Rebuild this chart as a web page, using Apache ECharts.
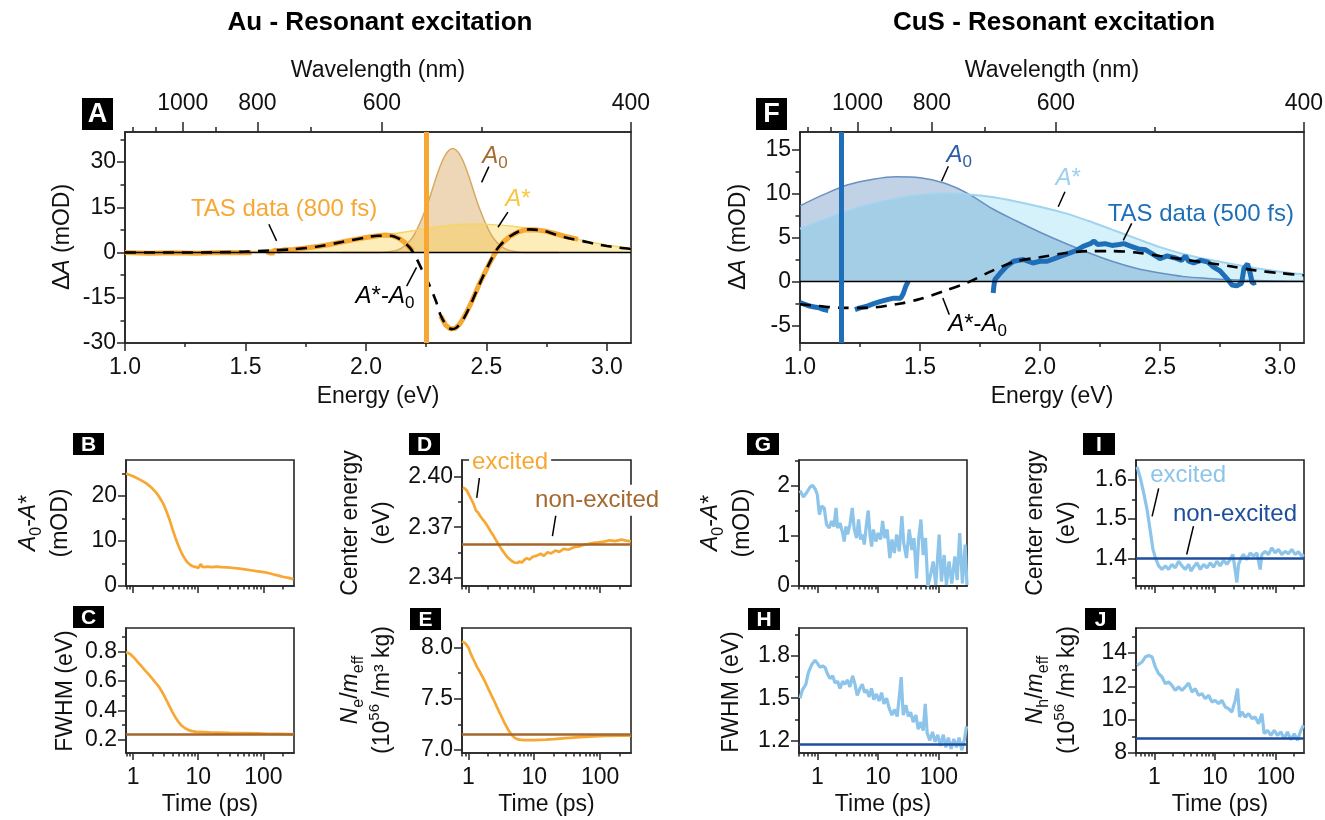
<!DOCTYPE html>
<html>
<head>
<meta charset="utf-8">
<title>Au / CuS resonant excitation</title>
<script src="https://cdn.jsdelivr.net/npm/echarts@6.0.0/dist/echarts.min.js"></script>
<style>
html,body{margin:0;padding:0;background:#fff;}
#chart{width:1325px;height:820px;}
</style>
</head>
<body>
<div id="chart"></div>
<script>
const FONT = '"Liberation Sans", Arial, Helvetica, sans-serif';
const HC = 1239.84; // eV*nm, energy <-> wavelength for the top axis

// ---------------- tick values / labels ----------------
const wavelengthLabels = [1000, 800, 600, 400];
const wavelengthMinor = [1200, 1100, 900, 700, 500];
const energyMajor = [1.0, 1.5, 2.0, 2.5, 3.0];
const energyMinor = [1.25, 1.75, 2.25, 2.75];
const timeMajor = [1, 10, 100];
const timeMinorAu = [0.8, 0.9, 2, 3, 4, 5, 6, 7, 8, 9, 20, 30, 40, 50, 60, 70, 80, 90, 200];
const timeMinorCu = [0.5, 0.6, 0.7, 0.8, 0.9, 2, 3, 4, 5, 6, 7, 8, 9, 20, 30, 40, 50, 60, 70, 80, 90, 200];
const yMajorA = [-30, -15, 0, 15, 30], yMinorA = [-22.5, -7.5, 7.5, 22.5, 37.5];
const yMajorF = [-5, 0, 5, 10, 15], yMinorF = [-2.5, 2.5, 7.5, 12.5];
const yMajorB = [0, 10, 20], yMinorB = [5, 15, 25];
const yMajorC = [0.2, 0.4, 0.6, 0.8], yMinorC = [0.3, 0.5, 0.7, 0.9];
const yMajorD = [2.34, 2.37, 2.40], yMinorD = [2.355, 2.385];
const yMajorE = [7.0, 7.5, 8.0], yMinorE = [7.25, 7.75];
const yMajorG = [0, 1, 2], yMinorG = [0.5, 1.5, 2.5];
const yMajorH = [1.2, 1.5, 1.8], yMinorH = [1.35, 1.65, 1.95];
const yMajorI = [1.4, 1.5, 1.6], yMinorI = [1.35, 1.45, 1.55];
const yMajorJ = [8, 10, 12, 14], yMinorJ = [9, 11, 13, 15];

// ---------------- Panel A : Au spectra (energy eV, dA mOD) ----------------
const auPump = 2.25;
const auTAS = [[1.0,0.0],[1.1,-0.2],[1.2,-0.1],[1.3,-0.2],[1.4,0.0],[1.525,-0.1],[1.56,null],
 [1.595,-0.8],[1.6,0.6],[1.61,-0.5],[1.62,0.8],[1.64,0.5],[1.66,0.9],[1.7,1.0],[1.75,1.5],[1.8,2.0],[1.85,2.7],[1.9,3.5],[1.95,4.3],[2.0,5.0],[2.05,5.6],[2.08,5.8],[2.11,5.6],[2.14,4.6],[2.16,3.4],[2.18,1.8],[2.195,0.6],[2.25,null],
 [2.31,-21.0],[2.33,-24.0],[2.35,-25.3],[2.37,-25.2],[2.39,-23.6],[2.41,-21.0],[2.43,-17.8],[2.45,-14.2],[2.47,-10.5],[2.49,-7.2],[2.51,-4.0],[2.53,-1.0],[2.55,1.5],[2.57,3.5],[2.6,5.5],[2.63,6.8],[2.66,7.5],[2.7,7.6],[2.74,7.2],[2.78,6.4],[2.82,5.5],[2.86,4.8],[2.88,4.4]];
const auFit = [[1.0,0],[1.2,0],[1.4,0.1],[1.5,0.3],[1.6,0.7],[1.7,1.1],[1.8,2.0],[1.9,3.5],[2.0,5.0],[2.05,5.6],[2.1,5.6],[2.14,4.5],[2.17,2.6],[2.19,0.8],[2.21,-2.0],[2.23,-5.3],[2.26,-10.2],[2.29,-16.0],[2.31,-20.8],[2.335,-24.3],[2.356,-25.4],[2.376,-24.9],[2.404,-22.1],[2.432,-17.7],[2.459,-12.7],[2.487,-7.7],[2.515,-3.1],[2.542,0.9],[2.57,3.5],[2.6,5.5],[2.64,7.2],[2.68,7.7],[2.74,7.2],[2.79,5.9],[2.85,4.6],[2.9,3.8],[2.95,2.9],[3.0,2.2],[3.05,1.6],[3.1,1.2]];
const auA0 = [[1.9,0],[2.05,0.05],[2.1,0.3],[2.15,1.6],[2.2,5.9],[2.25,14.9],[2.3,26.9],[2.33,32.4],[2.36,34.5],[2.39,32.4],[2.42,26.9],[2.47,14.9],[2.52,5.9],[2.57,1.6],[2.62,0.3],[2.67,0.05],[2.8,0]];
const auAstar = [[1.0,0],[1.3,0.05],[1.5,0.3],[1.6,0.7],[1.7,1.1],[1.8,2.0],[1.9,3.5],[2.0,5.0],[2.1,6.1],[2.2,7.3],[2.3,8.6],[2.4,9.4],[2.45,9.5],[2.5,9.4],[2.6,8.8],[2.7,7.6],[2.8,5.9],[2.9,4.0],[3.0,2.5],[3.1,1.4]];

// ---------------- Panel F : CuS spectra ----------------
const cuPump = 1.17;
const cuTAS = [[1.0,-2.4],[1.02,-2.6],[1.04,-2.8],[1.06,-2.9],[1.08,-3.0],[1.1,-3.2],[1.118,-3.3],[1.17,null],
 [1.229,-3.2],[1.25,-3.0],[1.28,-2.8],[1.31,-2.5],[1.333,-2.3],[1.36,-2.1],[1.39,-1.9],[1.42,-1.9],[1.43,-1.4],[1.44,-0.6],[1.451,0.0],[1.6,null],
 [1.805,-1.3],[1.808,-0.5],[1.812,0.2],[1.833,0.9],[1.86,1.7],[1.89,2.3],[1.93,2.5],[1.97,2.1],[2.0,2.3],[2.03,2.3],[2.06,2.6],[2.09,2.9],[2.12,3.2],[2.15,3.5],[2.18,4.0],[2.21,4.3],[2.225,4.6],[2.24,4.2],[2.27,4.3],[2.3,4.1],[2.33,4.2],[2.35,4.3],[2.38,4.0],[2.41,3.7],[2.44,3.6],[2.47,3.1],[2.5,2.6],[2.53,2.9],[2.56,2.7],[2.59,2.4],[2.605,2.9],[2.62,2.3],[2.64,2.1],[2.67,2.4],[2.7,2.2],[2.72,1.7],[2.75,1.2],[2.78,0.3],[2.8,-0.4],[2.82,-0.5],[2.84,-0.2],[2.85,1.5],[2.865,2.0],[2.875,1.0],[2.885,-0.2],[2.9,-0.1]];
const cuFit = [[1.0,-2.6],[1.08,-2.8],[1.17,-3.0],[1.28,-3.0],[1.42,-2.5],[1.5,-2.0],[1.6,-1.1],[1.7,-0.1],[1.8,1.2],[1.9,2.3],[2.0,2.75],[2.1,3.2],[2.2,3.45],[2.3,3.45],[2.4,3.3],[2.5,2.9],[2.6,2.5],[2.7,2.1],[2.8,1.7],[2.9,1.25],[3.0,0.95],[3.1,0.7]];
const cuA0 = [[1.0,8.6],[1.1,9.9],[1.2,11.0],[1.3,11.6],[1.4,11.9],[1.5,11.8],[1.6,11.2],[1.7,10.0],[1.8,8.3],[1.9,6.9],[2.0,5.6],[2.1,4.4],[2.2,3.3],[2.3,2.3],[2.4,1.5],[2.5,0.95],[2.6,0.55],[2.7,0.35],[2.8,0.2],[2.9,0.1],[3.0,0.05],[3.1,0.02]];
const cuAstar = [[1.0,6.0],[1.1,7.0],[1.2,8.0],[1.3,8.8],[1.4,9.4],[1.5,9.8],[1.6,10.0],[1.7,9.9],[1.8,9.6],[1.9,9.1],[2.0,8.5],[2.1,7.8],[2.2,6.9],[2.3,5.9],[2.4,4.9],[2.5,3.9],[2.6,3.1],[2.7,2.5],[2.8,2.0],[2.9,1.5],[3.0,1.1],[3.1,0.8]];

// ---------------- Au kinetics (time ps) ----------------
const auAmp = [[0.78,25.0],[0.85,24.8],[0.92,24.6],[1.0,24.4],[1.1,24.1],[1.25,23.7],[1.4,23.3],[1.6,22.8],[1.8,22.2],[2.0,21.6],[2.25,20.8],[2.5,19.9],[2.75,18.9],[3.0,17.9],[3.3,16.4],[3.6,14.9],[4.0,12.8],[4.4,11.0],[4.8,9.5],[5.3,8.0],[5.8,6.8],[6.4,5.8],[7.0,5.1],[7.7,4.6],[8.5,4.3],[9.3,4.2],[10.0,4.0],[10.6,4.3],[11.0,4.9],[11.5,4.3],[12.5,4.2],[14,4.3],[16,4.2],[19,4.3],[23,4.2],[28,4.15],[35,4.0],[43,3.85],[52,3.7],[64,3.5],[78,3.3],[95,3.15],[115,2.95],[140,2.6],[170,2.3],[205,2.0],[245,1.8],[290,1.5]];
const auFwhm = [[0.78,0.795],[0.85,0.79],[0.92,0.78],[1.0,0.765],[1.1,0.745],[1.2,0.725],[1.35,0.70],[1.5,0.675],[1.7,0.65],[1.9,0.625],[2.1,0.60],[2.3,0.58],[2.5,0.56],[2.75,0.53],[3.0,0.50],[3.3,0.465],[3.6,0.43],[4.0,0.39],[4.5,0.35],[5.0,0.32],[5.6,0.295],[6.3,0.278],[7.0,0.267],[8.0,0.259],[9.0,0.255],[10,0.253],[12,0.252],[15,0.25],[20,0.249],[30,0.247],[50,0.245],[80,0.243],[120,0.241],[180,0.24],[250,0.239],[295,0.238]];
const auFwhmNonExc = 0.236;
const auCenter = [[0.82,2.3935],[0.88,2.3930],[0.95,2.3918],[1.02,2.3892],[1.1,2.3868],[1.2,2.3838],[1.3,2.3800],[1.4,2.3788],[1.5,2.3768],[1.65,2.3747],[1.8,2.3728],[2.0,2.3700],[2.2,2.3672],[2.4,2.3650],[2.6,2.3626],[2.9,2.3594],[3.2,2.3568],[3.6,2.3540],[4.0,2.3518],[4.5,2.3500],[5.0,2.3490],[5.5,2.3487],[6.0,2.3496],[6.5,2.3489],[7.0,2.3504],[7.7,2.3516],[8.5,2.3508],[9.5,2.3524],[11,2.3531],[12.5,2.3542],[14,2.3530],[16,2.3551],[18,2.3544],[21,2.3561],[24,2.3553],[28,2.3571],[33,2.3566],[40,2.3581],[48,2.3586],[57,2.3596],[68,2.3601],[80,2.3607],[95,2.3610],[115,2.3614],[140,2.3622],[170,2.3617],[210,2.3626],[250,2.3620],[293,2.3616]];
const auCenterNonExc = 2.3628;
const auDensity = [[0.8,8.06],[0.9,8.04],[1.0,8.0],[1.1,7.93],[1.2,7.88],[1.35,7.81],[1.5,7.76],[1.75,7.68],[2.0,7.60],[2.25,7.53],[2.5,7.47],[2.75,7.41],[3.0,7.36],[3.5,7.27],[4.0,7.20],[4.5,7.15],[5.0,7.12],[5.5,7.105],[6.0,7.10],[7.0,7.095],[8.0,7.096],[10,7.095],[12,7.098],[15,7.10],[20,7.105],[30,7.115],[50,7.125],[80,7.132],[120,7.137],[200,7.14],[293,7.14]];
const auDensityNonExc = 7.154;

// ---------------- CuS kinetics ----------------
const cuAmp = [[0.52,1.91],[0.59,1.78],[0.67,1.87],[0.76,1.98],[0.84,2.01],[0.93,1.93],[1.0,1.83],[1.08,1.43],[1.18,1.60],[1.30,1.56],[1.42,1.23],[1.57,1.16],[1.72,1.30],[1.88,1.19],[2.03,1.56],[2.16,1.16],[2.36,1.26],[2.61,1.06],[2.77,0.89],[2.96,1.19],[3.15,1.03],[3.44,1.23],[3.76,1.56],[4.06,1.13],[4.43,0.96],[4.77,1.33],[5.16,0.93],[5.56,1.03],[5.93,0.83],[6.47,1.26],[6.89,1.51],[7.34,1.03],[7.82,0.79],[8.33,1.13],[9.2,0.89],[10.0,1.06],[11.0,0.93],[11.85,1.30],[12.9,0.96],[14.1,1.13],[15.6,0.56],[16.9,0.93],[18.5,0.66],[20.2,1.03],[22.3,0.69],[24.6,1.40],[26.4,0.86],[29.3,0.56],[32.5,1.13],[36.0,0.72],[38.9,0.96],[42.9,0.15],[46.4,0.93],[50.6,1.33],[55.2,0.62],[60.3,0.96],[65.7,0.0],[72.9,0.22],[80.5,0.49],[88.9,0.02],[101,1.03],[110,0.09],[122,0.62],[133,0.02],[147,0.49],[163,0.05],[183,0.59],[200,0.12],[220,1.06],[244,0.05],[270,0.83],[290,0.02]];
const cuFwhm = [[0.52,1.50],[0.57,1.56],[0.65,1.60],[0.71,1.68],[0.81,1.74],[0.92,1.77],[1.0,1.75],[1.11,1.72],[1.22,1.73],[1.34,1.72],[1.48,1.67],[1.62,1.64],[1.79,1.66],[1.95,1.61],[2.16,1.62],[2.36,1.57],[2.61,1.62],[2.85,1.60],[3.15,1.63],[3.44,1.58],[3.81,1.66],[4.16,1.60],[4.54,1.52],[5.03,1.57],[5.5,1.60],[6.0,1.54],[6.47,1.56],[7.14,1.51],[7.8,1.57],[8.5,1.49],[9.4,1.53],[10.4,1.48],[11.4,1.54],[12.5,1.46],[13.8,1.50],[15.2,1.43],[16.9,1.38],[18.7,1.42],[20.6,1.37],[22.3,1.51],[24.0,1.65],[25.9,1.38],[28.7,1.45],[31.4,1.37],[34.3,1.40],[37.8,1.33],[41.8,1.38],[45.7,1.28],[50.6,1.33],[55.2,1.27],[59.6,1.46],[64.2,1.25],[71,1.20],[78.5,1.26],[86.7,1.19],[96,1.24],[106,1.16],[118,1.24],[130,1.15],[143,1.22],[159,1.14],[176,1.21],[195,1.15],[215,1.22],[238,1.13],[264,1.21],[285,1.30]];
const cuFwhmNonExc = 1.174;
const cuCenter = [[0.52,1.633],[0.59,1.604],[0.67,1.566],[0.76,1.524],[0.86,1.469],[0.95,1.423],[1.04,1.402],[1.18,1.381],[1.34,1.372],[1.52,1.381],[1.72,1.372],[1.95,1.385],[2.21,1.376],[2.51,1.393],[2.85,1.381],[3.23,1.372],[3.67,1.385],[4.0,1.368],[4.43,1.378],[5.03,1.389],[5.7,1.372],[6.47,1.385],[7.34,1.376],[8.33,1.389],[9.4,1.378],[10.7,1.393],[12.1,1.381],[13.8,1.395],[15.6,1.385],[17.7,1.397],[19.6,1.41],[21.5,1.368],[22.8,1.339],[24.3,1.385],[26.9,1.402],[29.3,1.41],[33.3,1.397],[37.8,1.414],[42.9,1.406],[48.7,1.414],[55.2,1.372],[58.7,1.41],[66.6,1.418],[75.6,1.41],[85.8,1.427],[97.4,1.414],[110,1.423],[125,1.41],[142,1.418],[161,1.412],[183,1.423],[207,1.41],[235,1.417],[266,1.406],[290,1.41]];
const cuCenterNonExc = 1.40;
const cuDensity = [[0.52,13.26],[0.63,13.46],[0.71,13.76],[0.81,13.86],[0.92,13.76],[1.04,13.16],[1.18,12.76],[1.34,12.56],[1.52,12.16],[1.72,12.26],[1.95,12.06],[2.21,11.76],[2.51,11.96],[2.85,11.76],[3.23,11.96],[3.67,12.2],[4.16,11.66],[4.72,11.86],[5.36,11.46],[6.08,11.56],[6.89,11.26],[7.82,11.46],[8.87,11.06],[10.0,11.16],[11.4,10.96],[12.9,11.16],[14.7,10.76],[16.6,10.66],[18.9,10.46],[21.4,11.16],[23.4,11.86],[25.3,10.16],[27.6,10.46],[31.3,10.16],[35.5,10.36],[40.3,10.06],[45.7,10.16],[51.9,9.76],[58.9,10.36],[64.2,9.16],[72.9,9.36],[82.7,9.06],[93.9,9.36],[106,9.06],[121,9.26],[137,8.86],[155,9.26],[176,8.8],[200,9.16],[227,8.76],[258,9.36],[285,9.66]];
const cuDensityNonExc = 8.9;

// ---------------- colours ----------------
const FRAME = '#262626', TXT = '#111111';
const AU_ORANGE = '#F7A733', AU_BROWN = '#A4672D', AU_A0_TXT = '#A66A2F', AU_AST_TXT = '#F8C640';
const CU_BLUE = '#1F6FB8', CU_A0_TXT = '#2C5DA8', CU_AST_TXT = '#9CD0F0', CU_EXC = '#8DC4EA', CU_NON = '#1E4E9C';

// ---------------- layout ----------------
const RECT = {
  A: [125, 132, 506, 211], F: [800, 132, 504, 211],
  B: [126, 460, 168, 126], C: [126, 628, 168, 125],
  D: [462, 460, 169, 126], E: [462, 628, 169, 125],
  G: [799, 460, 168, 126], H: [799, 628, 168, 125],
  I: [1136, 460, 168, 126], J: [1136, 628, 168, 125]
};
const TICK_FS = 23, NAME_FS = 23, ANN_FS = 24;

const grids = [], xAxis = [], yAxis = [], series = [];
const panels = {};

function axisDef(gi, pos, c, major) {
  return {
    type: c.log ? 'log' : 'value', logBase: 10,
    gridIndex: gi, position: pos, min: c.min, max: c.max, silent: true,
    axisLine: { show: major, onZero: false, lineStyle: { color: FRAME, width: 1.6 } },
    axisTick: { show: true, inside: false, length: major ? c.tl[0] : c.tl[1],
      customValues: major ? c.major : c.minor, lineStyle: { color: FRAME, width: 1.5 } },
    minorTick: { show: false },
    axisLabel: { show: major && !!c.labels, customValues: c.major, formatter: c.fmt,
      fontFamily: FONT, fontSize: TICK_FS, color: TXT, margin: c.margin || 9, hideOverlap: false },
    splitLine: { show: false },
    name: major && c.name ? c.name : '',
    nameLocation: 'middle', nameGap: c.nameGap || 30,
    nameTextStyle: { fontFamily: FONT, fontSize: NAME_FS, color: TXT }
  };
}
function addPanel(key, xc, yc, tc) {
  const r = RECT[key];
  const gi = grids.length;
  grids.push({ left: r[0], top: r[1], width: r[2], height: r[3], show: true,
    borderColor: FRAME, borderWidth: 1.6, backgroundColor: 'rgba(0,0,0,0)',
    containLabel: false, outerBoundsMode: 'none' });
  const xi = xAxis.length;
  xAxis.push(axisDef(gi, 'bottom', xc, true));
  xAxis.push(axisDef(gi, 'bottom', xc, false));
  if (tc) { xAxis.push(axisDef(gi, 'top', tc, true)); xAxis.push(axisDef(gi, 'top', tc, false)); }
  const yi = yAxis.length;
  yAxis.push(axisDef(gi, 'left', yc, true));
  yAxis.push(axisDef(gi, 'left', yc, false));
  panels[key] = { gi, xi, yi, r };
  return panels[key];
}
const fx = d => v => v.toFixed(d);
const fint = v => String(Math.round(v));
const fwl = v => String(Math.round(HC / v / 10) * 10);

function clean(d) { return d.map(p => [p[0], p[1] === null ? '-' : p[1]]); }
function line(p, data, opt) {
  return Object.assign({ type: 'line', xAxisIndex: p.xi, yAxisIndex: p.yi, data: clean(data),
    showSymbol: false, symbol: 'none', silent: true, animation: false, connectNulls: false }, opt);
}
function refLine(p, item, color, width, z) {
  return { type: 'line', xAxisIndex: p.xi, yAxisIndex: p.yi, data: [], z, silent: true, animation: false,
    markLine: { silent: true, animation: false, symbol: ['none', 'none'], label: { show: false },
      lineStyle: { color, width, type: 'solid', opacity: 1 }, emphasis: { disabled: true }, data: [item] } };
}

// ---- energy panels ----
const energyAxis = { min: 1, max: 3.1, major: energyMajor, minor: energyMinor, fmt: fx(1), tl: [8, 4], labels: true, margin: 13, name: 'Energy (eV)', nameGap: 42 };
const wlAxis = { min: 1, max: 3.1, major: wavelengthLabels.map(w => HC / w), minor: wavelengthMinor.map(w => HC / w), fmt: fwl, tl: [10, 5], labels: true, margin: 17, name: 'Wavelength (nm)', nameGap: 50 };

const pA = addPanel('A', energyAxis, { min: -30, max: 40, major: yMajorA, minor: yMinorA, fmt: fint, tl: [8, 4.5], labels: true }, wlAxis);
const pF = addPanel('F', energyAxis, { min: -7, max: 17, major: yMajorF, minor: yMinorF, fmt: fint, tl: [8, 4.5], labels: true }, wlAxis);

series.push(line(pA, auA0, { smooth: 0.35, z: 1, lineStyle: { color: '#D9A862', width: 1.5 }, areaStyle: { color: 'rgba(212,152,68,0.55)' } }));
series.push(line(pA, auAstar, { smooth: 0.35, z: 1, lineStyle: { color: '#F7D466', width: 1.5 }, areaStyle: { color: 'rgba(250,205,55,0.5)' } }));
series.push(refLine(pA, { yAxis: 0 }, '#000', 1.3, 2));
series.push(line(pA, auTAS, { z: 3, lineStyle: { color: AU_ORANGE, width: 5 } }));
series.push(line(pA, auFit, { smooth: 0.3, z: 4, lineStyle: { color: '#000', width: 2.6, type: [11, 8] } }));
series.push(refLine(pA, { xAxis: auPump }, AU_ORANGE, 5, 5));

series.push(line(pF, cuA0, { smooth: 0.35, z: 1, lineStyle: { color: '#6890C2', width: 1.5 }, areaStyle: { color: 'rgba(100,140,192,0.56)' } }));
series.push(line(pF, cuAstar, { smooth: 0.35, z: 1, lineStyle: { color: '#9FD3F0', width: 2 }, areaStyle: { color: 'rgba(40,190,230,0.28)' } }));
series.push(refLine(pF, { yAxis: 0 }, '#000', 1.3, 2));
series.push(line(pF, cuTAS, { z: 3, lineStyle: { color: CU_BLUE, width: 5 } }));
series.push(line(pF, cuFit, { smooth: 0.3, z: 4, lineStyle: { color: '#000', width: 2.6, type: [11, 8] } }));
series.push(refLine(pF, { xAxis: cuPump }, CU_BLUE, 5, 5));

// ---- kinetics panels ----
function tAxis(minT, maxT, minor, labels) {
  return { log: true, min: minT, max: maxT, major: timeMajor, minor, fmt: fint, tl: [7, 3.5], labels, margin: 13, name: labels ? 'Time (ps)' : '', nameGap: 40 };
}
function yA(min, max, major, minor, fmt) { return { min, max, major, minor, fmt, tl: [8, 4], labels: true }; }

const pB = addPanel('B', tAxis(0.78, 295, timeMinorAu, false), yA(0, 28, yMajorB, yMinorB, fint));
const pC = addPanel('C', tAxis(0.78, 295, timeMinorAu, true), yA(0.11, 0.96, yMajorC, yMinorC, fx(1)));
const pD = addPanel('D', tAxis(0.8, 295, timeMinorAu, false), yA(2.335, 2.41, yMajorD, yMinorD, fx(2)));
const pE = addPanel('E', tAxis(0.8, 295, timeMinorAu, true), yA(6.97, 8.19, yMajorE, yMinorE, fx(1)));
const pG = addPanel('G', tAxis(0.5, 290, timeMinorCu, false), yA(0, 2.52, yMajorG, yMinorG, fint));
const pH = addPanel('H', tAxis(0.5, 290, timeMinorCu, true), yA(1.11, 2.0, yMajorH, yMinorH, fx(1)));
const pI = addPanel('I', tAxis(0.5, 290, timeMinorCu, false), yA(1.33, 1.65, yMajorI, yMinorI, fx(1)));
const pJ = addPanel('J', tAxis(0.5, 290, timeMinorCu, true), yA(8, 15.5, yMajorJ, yMinorJ, fint));

series.push(line(pB, auAmp, { z: 3, lineStyle: { color: AU_ORANGE, width: 2.7 } }));
series.push(line(pC, auFwhm, { z: 3, lineStyle: { color: AU_ORANGE, width: 2.7 } }));
series.push(refLine(pC, { yAxis: auFwhmNonExc }, AU_BROWN, 2.6, 4));
series.push(line(pD, auCenter, { z: 3, lineStyle: { color: AU_ORANGE, width: 2.7 } }));
series.push(refLine(pD, { yAxis: auCenterNonExc }, AU_BROWN, 2.6, 4));
series.push(line(pE, auDensity, { z: 3, lineStyle: { color: AU_ORANGE, width: 2.7 } }));
series.push(refLine(pE, { yAxis: auDensityNonExc }, AU_BROWN, 2.6, 4));

series.push(line(pG, cuAmp, { z: 3, lineStyle: { color: CU_EXC, width: 3.2 } }));
series.push(line(pH, cuFwhm, { z: 3, lineStyle: { color: CU_EXC, width: 3.2 } }));
series.push(refLine(pH, { yAxis: cuFwhmNonExc }, CU_NON, 2.6, 4));
series.push(line(pI, cuCenter, { z: 3, lineStyle: { color: CU_EXC, width: 3.2 } }));
series.push(refLine(pI, { yAxis: cuCenterNonExc }, CU_NON, 2.6, 4));
series.push(line(pJ, cuDensity, { z: 3, lineStyle: { color: CU_EXC, width: 3.2 } }));
series.push(refLine(pJ, { yAxis: cuDensityNonExc }, CU_NON, 2.6, 4));

// ---------------- text helpers ----------------
function rich(color, size, lh) {
  const L = lh || Math.round(size * 1.3);
  const b = { fontFamily: FONT, fontSize: size, fill: color, color: color, lineHeight: L };
  const sub = Math.round(size * 0.7), sup = Math.round(size * 0.64);
  return {
    n: Object.assign({}, b),
    i: Object.assign({}, b, { fontStyle: 'italic' }),
    s: { fontFamily: FONT, fontSize: sub, fill: color, color: color, lineHeight: sub, verticalAlign: 'bottom' },
    p: { fontFamily: FONT, fontSize: sup, fill: color, color: color, lineHeight: sup, verticalAlign: 'top' }
  };
}
function textEl(id, x, y, text, color, size, opt) {
  opt = opt || {};
  const st = { text, rich: rich(color, size, opt.lh), fill: color, fontFamily: FONT, fontSize: size,
    fontWeight: opt.bold ? 'bold' : 'normal', align: 'center', verticalAlign: 'middle',
    textAlign: 'center', textVerticalAlign: 'middle' };
  if (opt.bg) { st.backgroundColor = opt.bg; st.padding = opt.pad || [0, 3]; }
  return { type: 'text', id, x, y, rotation: opt.rot || 0, z: opt.z || 100, silent: true, style: st };
}

const statics = [];
// titles
statics.push({ type: 'text', id: 'tAu', x: 380, y: 23, z: 100, silent: true,
  style: { text: 'Au - Resonant excitation', fill: '#000', fontFamily: FONT, fontSize: 26, fontWeight: 'bold', align: 'center', verticalAlign: 'middle', textAlign: 'center', textVerticalAlign: 'middle' } });
statics.push({ type: 'text', id: 'tCu', x: 1054, y: 23, z: 100, silent: true,
  style: { text: 'CuS - Resonant excitation', fill: '#000', fontFamily: FONT, fontSize: 26, fontWeight: 'bold', align: 'center', verticalAlign: 'middle', textAlign: 'center', textVerticalAlign: 'middle' } });

// panel letters
const LETTERS = [
  ['A', 82, 98, 31, 32, 27], ['F', 756, 98, 31, 32, 27],
  ['B', 73, 433, 31, 22, 21], ['C', 73, 606, 31, 22, 21],
  ['D', 409, 433, 31, 22, 21], ['E', 410, 608, 31, 22, 21],
  ['G', 747, 433, 32, 22, 21], ['H', 748, 608, 32, 22, 21],
  ['I', 1083, 433, 32, 22, 21], ['J', 1085, 608, 31, 22, 21]
];
LETTERS.forEach(l => {
  statics.push({ type: 'rect', id: 'box' + l[0], z: 100, silent: true, shape: { x: l[1], y: l[2], width: l[3], height: l[4] }, style: { fill: '#000' } });
  statics.push({ type: 'text', id: 'let' + l[0], x: l[1] + l[3] / 2, y: l[2] + l[4] / 2 + 1, z: 101, silent: true,
    style: { text: l[0], fill: '#fff', fontFamily: FONT, fontSize: l[5], fontWeight: 'bold', align: 'center', verticalAlign: 'middle', textAlign: 'center', textVerticalAlign: 'middle' } });
});

// y-axis titles (rotated)
const R90 = Math.PI / 2;
const YNAMES = [
  ['yA', 63, 237, '{n|Δ}{i|A}{n| (mOD)}'],
  ['yF', 739, 237, '{n|Δ}{i|A}{n| (mOD)}'],
  ['yB', 45, 523, '{i|A}{s|0}{n|-}{i|A}{n|*}\n{n|(mOD)}'],
  ['yC', 66, 691, '{n|FWHM (eV)}'],
  ['yD', 367, 523, '{n|Center energy}\n{n|(eV)}'],
  ['yE', 367, 690, '{i|N}{s|e}{n|/}{i|m}{s|eff}\n{n|(10}{p|56}{n| /m³ kg)}'],
  ['yG', 727, 523, '{i|A}{s|0}{n|-}{i|A}{n|*}\n{n|(mOD)}'],
  ['yH', 732, 692, '{n|FWHM (eV)}'],
  ['yI', 1052, 523, '{n|Center energy}\n{n|(eV)}'],
  ['yJ', 1052, 690, '{i|N}{s|h}{n|/}{i|m}{s|eff}\n{n|(10}{p|56}{n| /m³ kg)}']
];
YNAMES.forEach(y => statics.push(textEl(y[0], y[1], y[2], y[3], TXT, NAME_FS, { rot: R90, lh: 32 })));

// annotations in data coordinates of each panel
const annotations = [
  { id: 'aTas', p: 'A', text: '{n|TAS data (800 fs)}', color: AU_ORANGE, at: [1.66, 14.4], lead: [[1.597, 9.4], [1.629, 3.9]] },
  { id: 'aA0', p: 'A', text: '{i|A}{s|0}', color: AU_A0_TXT, at: [2.535, 32.0], lead: [[2.51, 28.5], [2.48, 23.3]] },
  { id: 'aAs', p: 'A', text: '{i|A}{n|*}', color: AU_AST_TXT, at: [2.631, 17.7], lead: [[2.589, 13.4], [2.548, 8.4]] },
  { id: 'aDf', p: 'A', text: '{i|A}{n|*-}{i|A}{s|0}', color: '#000', at: [2.079, -14.5], lead: [[2.21, -4.9], [2.169, -11.1]] },
  { id: 'fA0', p: 'F', text: '{i|A}{s|0}', color: CU_A0_TXT, at: [1.663, 14.3], lead: [[1.618, 13.1], [1.59, 11.4]] },
  { id: 'fAs', p: 'F', text: '{i|A}{n|*}', color: CU_AST_TXT, at: [2.117, 11.7], lead: [[2.104, 10.2], [2.076, 8.5]] },
  { id: 'fTas', p: 'F', text: '{n|TAS data (500 fs)}', color: CU_BLUE, at: [2.67, 7.66], lead: [[2.382, 6.6], [2.347, 4.67]] },
  { id: 'fDf', p: 'F', text: '{i|A}{n|*-}{i|A}{s|0}', color: '#000', at: [1.74, -4.9], lead: [[1.595, -1.88], [1.622, -3.77]] },
  { id: 'dEx', p: 'D', text: '{n|excited}', color: AU_ORANGE, at: [4.3, 2.4085], lead: [[1.506, 2.4024], [1.34, 2.3875]], bg: '#fff' },
  { id: 'dNon', p: 'D', text: '{n|non-excited}', color: AU_BROWN, at: [90.3, 2.386], lead: [[22.0, 2.3806], [18.9, 2.3647]], bg: '#fff' },
  { id: 'iEx', p: 'I', text: '{n|excited}', color: CU_EXC, at: [3.61, 1.61], lead: [[1.18, 1.578], [0.92, 1.507]] },
  { id: 'iNon', p: 'I', text: '{n|non-excited}', color: CU_NON, at: [21.2, 1.511], lead: [[4.41, 1.482], [3.41, 1.41]] }
];

const chart = echarts.init(document.getElementById('chart'), null, { renderer: 'canvas', width: 1325, height: 820 });
chart.setOption({
  animation: false,
  backgroundColor: '#ffffff',
  textStyle: { fontFamily: FONT },
  grid: grids, xAxis, yAxis, series,
  graphic: { elements: statics }
});

const annEls = [];
annotations.forEach(a => {
  const p = panels[a.p];
  const fi = { xAxisIndex: p.xi, yAxisIndex: p.yi };
  const c = chart.convertToPixel(fi, a.at);
  const l0 = chart.convertToPixel(fi, a.lead[0]);
  const l1 = chart.convertToPixel(fi, a.lead[1]);
  annEls.push({ type: 'line', id: a.id + 'L', z: 99, silent: true,
    shape: { x1: l0[0], y1: l0[1], x2: l1[0], y2: l1[1] }, style: { stroke: '#000', lineWidth: 1.5 } });
  annEls.push(textEl(a.id, c[0], c[1], a.text, a.color, ANN_FS, { bg: a.bg, pad: [0, 3] }));
});
chart.setOption({ graphic: { elements: statics.concat(annEls) } });
</script>
</body>
</html>
